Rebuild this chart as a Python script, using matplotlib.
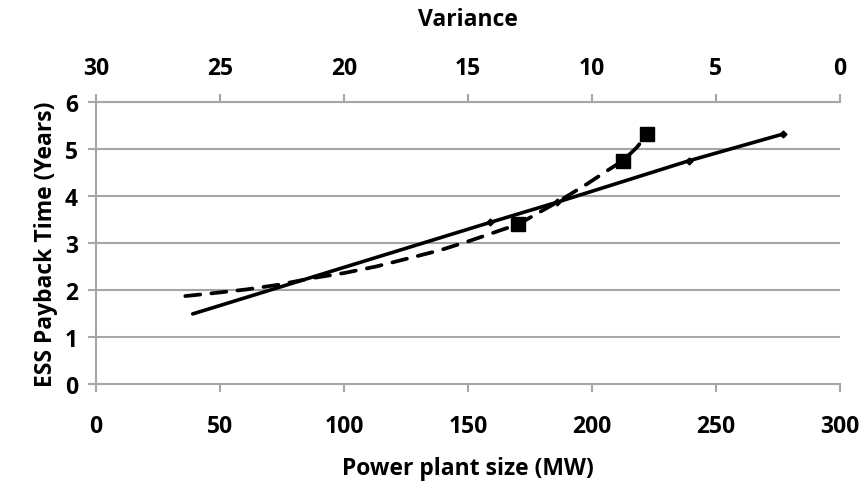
import matplotlib
matplotlib.use("Agg")
import matplotlib.pyplot as plt

# solid series: payback vs power plant size (MW)
size_mw = [39, 159, 186, 239, 277]
payback_size = [1.49, 3.44, 3.87, 4.75, 5.32]

# dashed series: payback vs variance (top axis)
variance = [26.4, 25.3, 23.95, 22.65, 21.3, 20.0, 18.7, 17.5, 16.1, 14.85,
            13.64, 12.97, 12.37, 11.4, 10.22, 9.3, 8.76, 8.2, 7.77]
payback_var = [1.87, 1.93, 2.01, 2.11, 2.25, 2.36, 2.50, 2.66, 2.85, 3.06,
               3.28, 3.40, 3.58, 3.87, 4.25, 4.57, 4.75, 5.03, 5.32]
square_idx = [11, 16, 18]

size_ticks = [0, 50, 100, 150, 200, 250, 300]
var_ticks = [30, 25, 20, 15, 10, 5, 0]
y_ticks = [0, 1, 2, 3, 4, 5, 6]

plt.rcParams["font.family"] = ["Open Sans", "DejaVu Sans"]
grey = "#a6a6a6"

fig = plt.figure(figsize=(8.65, 4.89), dpi=100)
ax = fig.add_axes([0.111, 0.213, 0.86, 0.576])

for y in y_ticks[1:]:
    ax.axhline(y, color=grey, lw=1.5, zorder=0)

ax.plot(size_mw, payback_size, color="black", lw=2.6, marker="D", ms=3.5,
        markevery=[1, 2, 3, 4], solid_capstyle="round", zorder=3)

ax.set_xlim(0, 300)
ax.set_ylim(0, 6)
ax.set_xticks(size_ticks)
ax.set_yticks(y_ticks)
for side in ["right", "top"]:
    ax.spines[side].set_visible(False)
for side in ["left", "bottom"]:
    ax.spines[side].set_color(grey)
    ax.spines[side].set_linewidth(1.5)
ax.tick_params(direction="out", length=6, width=1.5, color=grey,
               labelsize=16.5)
ax.tick_params(axis="x", pad=16)
ax.tick_params(axis="y", pad=7)
for lbl in ax.get_xticklabels() + ax.get_yticklabels():
    lbl.set_fontweight("bold")
ax.set_xlabel("Power plant size (MW)", fontsize=16.5, fontweight="bold", labelpad=13)
ax.set_ylabel("ESS Payback Time (Years)", fontsize=16.5, fontweight="bold", labelpad=5)

ax2 = ax.twiny()
ax2.plot(variance, payback_var, color="black", lw=2.7, ls=(0, (4, 3)),
         dash_capstyle="round", zorder=3)
ax2.plot([variance[i] for i in square_idx], [payback_var[i] for i in square_idx],
         ls="none", marker="s", ms=10, color="black", zorder=4)
ax2.set_xlim(30, 0)
ax2.set_xticks(var_ticks)
for side in ["right", "left", "bottom"]:
    ax2.spines[side].set_visible(False)
ax2.spines["top"].set_color(grey)
ax2.spines["top"].set_linewidth(1.5)
ax2.tick_params(direction="out", length=6, width=1.5, color=grey,
                labelsize=16.5, pad=10)
for lbl in ax2.get_xticklabels():
    lbl.set_fontweight("bold")
ax2.set_xlabel("Variance", fontsize=16.5, fontweight="bold", labelpad=22)
ax.set_ylim(0, 6)

fig.savefig("out.png", dpi=100)
